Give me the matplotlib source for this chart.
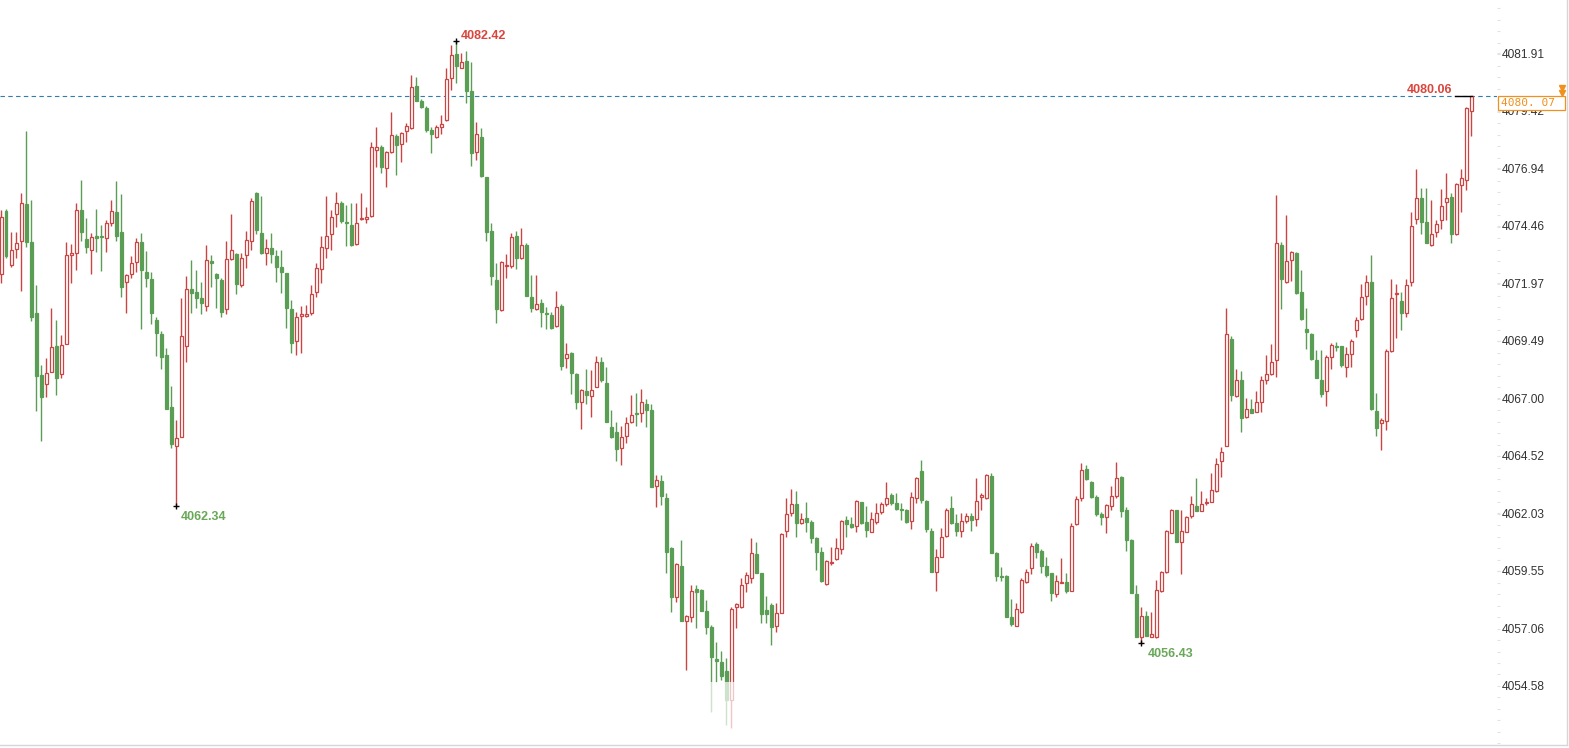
import numpy as np
import matplotlib
matplotlib.use('Agg')
import matplotlib.pyplot as plt
import matplotlib.transforms as mtransforms
from matplotlib.patches import Rectangle
from matplotlib.lines import Line2D
from matplotlib.ticker import FixedLocator, FixedFormatter, AutoMinorLocator


# OHLC data (one candle per bar, oldest first)
open_prices = [
    4072.36, 4075.11, 4072.77, 4073.44, 4073.82, 4075.39, 4073.74, 4070.68, 4068.01, 4067.61,
    4068.16, 4069.27, 4068.06, 4069.34, 4073.21, 4073.27, 4075.14, 4073.89, 4073.41, 4074.02,
    4074.02, 4073.92, 4074.57, 4075.04, 4074.18, 4072.05, 4072.36, 4072.88, 4073.77, 4072.45,
    4072.15, 4070.39, 4069.78, 4068.88, 4066.62, 4064.96, 4065.32, 4069.28, 4071.73, 4071.58,
    4071.33, 4071.01, 4072.94, 4072.38, 4072.12, 4070.85, 4073.01, 4073.24, 4071.90, 4073.20,
    4073.80, 4075.86, 4074.13, 4073.30, 4073.49, 4073.15, 4072.69, 4072.41, 4070.85, 4069.50,
    4070.56, 4070.56, 4070.68, 4071.58, 4072.58, 4073.49, 4074.09, 4074.95, 4075.43, 4074.61,
    4074.49, 4073.67, 4074.75, 4074.74, 4074.88, 4077.73, 4077.85, 4076.94, 4077.63, 4078.34,
    4077.99, 4078.57, 4078.67, 4080.50, 4079.85, 4079.56, 4078.60, 4078.28, 4078.71, 4079.03,
    4080.83, 4081.87, 4081.29, 4081.58, 4080.28, 4077.63, 4078.28, 4076.58, 4074.23, 4072.12,
    4070.82, 4072.74, 4072.72, 4074.02, 4073.05, 4073.63, 4071.37, 4070.85, 4071.11, 4070.68,
    4070.61, 4070.13, 4070.99, 4068.76, 4068.98, 4068.06, 4066.83, 4067.32, 4067.12, 4067.51,
    4068.56, 4067.68, 4065.75, 4065.54, 4064.85, 4065.39, 4066.00, 4066.39, 4066.36, 4066.75,
    4066.50, 4063.23, 4063.45, 4062.71, 4060.56, 4058.44, 4059.76, 4057.40, 4057.57, 4058.76,
    4058.73, 4057.80, 4057.14, 4055.75, 4055.63, 4055.24, 4053.97, 4058.01, 4057.98, 4059.01,
    4059.23, 4060.28, 4059.45, 4057.86, 4058.08, 4057.19, 4057.75, 4061.28, 4062.07, 4062.44,
    4061.61, 4061.82, 4061.68, 4060.96, 4060.35, 4058.97, 4059.88, 4060.05, 4060.50, 4061.75,
    4061.56, 4061.49, 4062.51, 4061.65, 4061.25, 4061.68, 4062.11, 4062.43, 4062.83, 4062.50,
    4062.21, 4062.18, 4061.71, 4062.71, 4063.88, 4062.57, 4061.28, 4059.52, 4060.17, 4061.06,
    4062.25, 4061.61, 4061.28, 4061.72, 4061.92, 4061.78, 4062.76, 4062.69, 4063.65, 4060.31,
    4059.33, 4059.33, 4057.55, 4057.19, 4057.76, 4059.09, 4059.66, 4060.71, 4060.41, 4059.76,
    4059.45, 4058.54, 4059.04, 4059.06, 4058.70, 4061.58, 4062.69, 4063.94, 4063.41, 4062.76,
    4062.01, 4061.87, 4062.37, 4062.80, 4063.62, 4062.18, 4060.89, 4058.55, 4056.71, 4057.60,
    4056.68, 4056.68, 4058.70, 4059.49, 4061.20, 4062.18, 4060.79, 4061.25, 4061.94, 4062.35,
    4062.15, 4062.50, 4062.54, 4063.00, 4064.31, 4064.96, 4069.55, 4067.11, 4067.80, 4066.19,
    4066.53, 4066.43, 4066.83, 4067.80, 4068.04, 4068.66, 4073.63, 4072.02, 4072.98, 4073.30,
    4071.58, 4070.00, 4069.77, 4068.66, 4067.80, 4067.34, 4068.78, 4069.27, 4069.27, 4068.34,
    4068.92, 4069.96, 4070.42, 4071.43, 4072.05, 4066.47, 4065.93, 4066.04, 4069.06, 4071.51,
    4071.21, 4070.68, 4072.02, 4074.74, 4075.67, 4074.61, 4073.63, 4074.21, 4074.71, 4075.47,
    4075.72, 4074.09, 4076.22, 4076.44, 4079.43,
]
high_prices = [
    4075.14, 4075.17, 4074.21, 4074.21, 4075.86, 4078.55, 4075.57, 4071.90, 4068.45, 4068.73,
    4070.92, 4070.39, 4069.74, 4073.77, 4073.67, 4075.46, 4076.44, 4074.81, 4074.13, 4075.17,
    4074.48, 4074.71, 4075.57, 4076.39, 4075.83, 4072.38, 4073.15, 4073.92, 4074.13, 4073.37,
    4072.48, 4070.53, 4069.91, 4069.17, 4067.55, 4066.07, 4071.35, 4072.29, 4072.98, 4072.55,
    4072.02, 4073.63, 4073.20, 4072.41, 4072.19, 4073.80, 4074.95, 4073.27, 4073.27, 4074.23,
    4075.65, 4075.93, 4075.75, 4073.89, 4074.13, 4073.41, 4073.41, 4072.43, 4071.25, 4070.75,
    4071.01, 4071.04, 4071.90, 4072.84, 4074.02, 4075.75, 4075.14, 4075.90, 4075.54, 4075.36,
    4075.43, 4075.43, 4075.86, 4075.26, 4078.09, 4078.74, 4077.95, 4077.70, 4079.39, 4078.42,
    4078.52, 4078.91, 4080.97, 4080.90, 4079.92, 4079.63, 4078.74, 4078.81, 4079.24, 4081.26,
    4082.27, 4082.42, 4081.94, 4082.01, 4081.55, 4078.93, 4078.67, 4076.58, 4074.57, 4072.84,
    4072.94, 4073.24, 4074.16, 4074.23, 4074.35, 4073.73, 4072.33, 4072.33, 4071.28, 4070.97,
    4070.75, 4071.66, 4071.07, 4069.38, 4069.02, 4068.11, 4067.39, 4068.26, 4068.23, 4068.85,
    4068.81, 4068.37, 4066.50, 4065.97, 4065.81, 4066.19, 4067.15, 4067.25, 4067.41, 4066.96,
    4066.76, 4063.69, 4063.69, 4062.90, 4060.60, 4059.88, 4060.89, 4057.65, 4058.94, 4058.94,
    4058.76, 4058.29, 4057.21, 4056.49, 4056.09, 4055.77, 4058.01, 4058.18, 4059.23, 4059.52,
    4060.96, 4060.81, 4059.48, 4058.47, 4058.15, 4058.15, 4061.17, 4062.71, 4063.07, 4063.00,
    4062.04, 4062.51, 4061.75, 4061.03, 4060.60, 4060.02, 4060.57, 4060.96, 4061.75, 4061.92,
    4061.89, 4062.61, 4062.54, 4062.35, 4062.11, 4062.47, 4062.54, 4063.38, 4062.93, 4062.90,
    4062.47, 4062.21, 4062.95, 4063.62, 4064.34, 4062.61, 4061.39, 4060.48, 4061.39, 4062.28,
    4062.79, 4062.01, 4062.04, 4062.04, 4062.07, 4063.55, 4062.90, 4063.72, 4063.77, 4060.38,
    4059.73, 4059.37, 4058.32, 4058.15, 4059.23, 4059.62, 4060.74, 4060.81, 4060.48, 4060.17,
    4059.48, 4059.37, 4060.09, 4059.48, 4061.61, 4062.79, 4064.20, 4064.13, 4063.43, 4062.83,
    4062.11, 4062.44, 4063.22, 4064.27, 4063.65, 4062.30, 4060.92, 4058.94, 4057.98, 4057.82,
    4057.79, 4059.16, 4059.56, 4061.32, 4062.21, 4062.18, 4062.18, 4061.92, 4062.79, 4063.58,
    4063.02, 4062.71, 4063.77, 4064.41, 4064.92, 4070.89, 4069.70, 4068.26, 4068.19, 4067.01,
    4066.96, 4067.34, 4067.98, 4068.88, 4069.34, 4075.79, 4073.74, 4074.93, 4073.38, 4073.31,
    4072.55, 4070.89, 4069.81, 4069.09, 4069.09, 4068.88, 4069.41, 4069.42, 4069.28, 4069.24,
    4069.55, 4070.50, 4071.94, 4072.33, 4073.20, 4067.22, 4066.14, 4069.12, 4072.15, 4071.94,
    4071.61, 4072.15, 4075.04, 4076.90, 4076.11, 4076.08, 4075.57, 4074.71, 4076.05, 4076.72,
    4075.86, 4076.29, 4076.90, 4079.60, 4080.06,
]
low_prices = [
    4072.00, 4073.05, 4072.69, 4073.05, 4071.66, 4073.56, 4070.35, 4066.47, 4065.18, 4067.05,
    4068.16, 4067.15, 4067.87, 4069.34, 4072.00, 4072.55, 4073.82, 4073.27, 4072.38, 4073.34,
    4072.52, 4073.34, 4074.45, 4073.82, 4071.40, 4070.71, 4072.19, 4072.48, 4070.00, 4071.83,
    4070.20, 4068.85, 4068.26, 4066.53, 4064.85, 4062.34, 4065.32, 4068.59, 4070.71, 4070.89,
    4070.63, 4070.78, 4071.83, 4070.89, 4070.50, 4070.63, 4072.98, 4071.51, 4071.83, 4072.62,
    4073.41, 4074.10, 4073.24, 4072.77, 4072.84, 4072.05, 4071.54, 4070.06, 4068.98, 4068.88,
    4068.98, 4070.53, 4070.61, 4071.40, 4071.97, 4073.05, 4073.41, 4074.42, 4074.57, 4073.59,
    4073.59, 4073.63, 4074.71, 4074.57, 4074.85, 4077.01, 4076.72, 4076.15, 4077.59, 4076.65,
    4077.20, 4078.06, 4078.64, 4079.86, 4079.53, 4078.52, 4077.62, 4078.24, 4078.41, 4078.99,
    4080.32, 4080.61, 4081.26, 4079.78, 4077.04, 4077.30, 4076.58, 4073.82, 4071.90, 4070.25,
    4070.79, 4072.19, 4072.62, 4072.59, 4073.01, 4071.44, 4070.75, 4070.82, 4070.10, 4069.99,
    4069.99, 4070.10, 4068.23, 4068.33, 4067.19, 4066.53, 4065.68, 4066.75, 4066.21, 4067.48,
    4067.70, 4066.00, 4065.31, 4064.31, 4064.13, 4065.06, 4065.95, 4065.81, 4066.00, 4065.78,
    4063.16, 4062.33, 4062.40, 4059.48, 4057.79, 4058.22, 4057.40, 4055.27, 4057.36, 4057.10,
    4057.82, 4056.81, 4053.46, 4054.74, 4054.84, 4052.89, 4052.77, 4057.07, 4057.93, 4058.65,
    4059.01, 4059.45, 4057.32, 4057.32, 4056.35, 4056.93, 4057.75, 4061.00, 4061.94, 4061.03,
    4061.58, 4061.25, 4060.74, 4059.59, 4059.09, 4058.94, 4059.81, 4060.02, 4060.28, 4061.03,
    4061.39, 4061.25, 4061.58, 4061.03, 4061.22, 4061.58, 4062.01, 4062.37, 4062.40, 4062.18,
    4061.75, 4061.63, 4061.35, 4062.50, 4062.50, 4061.25, 4059.49, 4058.70, 4060.14, 4061.03,
    4061.58, 4061.06, 4061.03, 4061.63, 4061.29, 4061.49, 4062.18, 4062.66, 4060.34, 4059.12,
    4059.13, 4057.55, 4057.17, 4057.19, 4057.72, 4059.01, 4059.42, 4060.09, 4059.45, 4059.30,
    4058.27, 4058.44, 4059.04, 4058.58, 4058.70, 4061.53, 4062.59, 4063.48, 4062.69, 4061.92,
    4061.53, 4061.17, 4062.18, 4062.69, 4061.89, 4060.43, 4058.61, 4056.68, 4056.43, 4056.75,
    4056.68, 4056.67, 4058.65, 4059.48, 4061.17, 4060.81, 4059.40, 4061.25, 4061.82, 4062.15,
    4062.15, 4062.40, 4062.51, 4062.97, 4063.62, 4064.96, 4066.90, 4067.08, 4065.57, 4066.14,
    4066.36, 4066.43, 4066.43, 4067.62, 4068.01, 4067.91, 4070.85, 4072.00, 4072.09, 4071.51,
    4070.39, 4069.12, 4068.66, 4067.90, 4067.08, 4066.67, 4068.26, 4069.06, 4068.34, 4067.94,
    4068.37, 4069.64, 4070.39, 4071.04, 4066.50, 4065.38, 4064.77, 4065.64, 4069.02, 4069.60,
    4069.96, 4070.53, 4071.87, 4074.54, 4074.09, 4073.70, 4073.60, 4073.96, 4074.31, 4074.71,
    4073.73, 4074.06, 4075.07, 4076.01, 4078.34,
]
close_prices = [
    4074.85, 4073.15, 4073.41, 4073.70, 4075.43, 4073.77, 4070.53, 4067.98, 4067.08, 4068.09,
    4069.21, 4067.87, 4069.31, 4073.20, 4073.27, 4075.14, 4074.21, 4073.56, 4073.96, 4073.95,
    4073.96, 4074.57, 4075.10, 4074.03, 4071.83, 4072.33, 4072.87, 4073.74, 4072.55, 4072.19,
    4070.68, 4069.81, 4068.81, 4066.53, 4065.02, 4065.28, 4069.70, 4071.71, 4071.54, 4071.33,
    4071.14, 4072.98, 4072.87, 4072.19, 4070.75, 4073.01, 4073.41, 4071.93, 4073.05, 4073.85,
    4075.53, 4074.28, 4073.27, 4073.49, 4073.24, 4072.69, 4072.45, 4070.89, 4069.41, 4070.50,
    4070.63, 4070.63, 4071.50, 4072.65, 4073.53, 4074.02, 4074.82, 4075.46, 4074.68, 4074.57,
    4073.63, 4074.59, 4074.81, 4074.82, 4077.85, 4077.85, 4076.98, 4077.63, 4078.38, 4077.95,
    4078.48, 4078.77, 4080.44, 4079.86, 4079.60, 4078.60, 4078.41, 4078.71, 4078.84, 4080.79,
    4081.84, 4081.36, 4081.52, 4080.30, 4077.59, 4078.41, 4076.61, 4074.21, 4072.29, 4070.85,
    4072.91, 4072.77, 4073.96, 4073.05, 4073.63, 4071.44, 4070.89, 4071.08, 4070.72, 4070.65,
    4070.06, 4070.94, 4068.42, 4068.92, 4068.09, 4066.86, 4067.37, 4067.15, 4067.37, 4068.56,
    4067.80, 4066.00, 4065.32, 4064.82, 4065.32, 4065.93, 4066.29, 4066.31, 4066.86, 4066.50,
    4063.19, 4063.48, 4062.80, 4060.38, 4058.41, 4059.84, 4057.40, 4057.62, 4058.68, 4058.65,
    4057.83, 4057.14, 4055.82, 4055.67, 4055.03, 4053.97, 4057.91, 4058.12, 4058.94, 4059.37,
    4060.31, 4059.48, 4057.69, 4057.69, 4057.14, 4057.72, 4061.15, 4061.99, 4062.44, 4061.63,
    4061.78, 4061.68, 4060.96, 4060.38, 4059.13, 4059.98, 4059.95, 4060.53, 4061.72, 4061.56,
    4061.43, 4062.57, 4061.61, 4061.32, 4061.79, 4062.04, 4062.44, 4062.71, 4062.50, 4062.23,
    4062.18, 4061.68, 4062.73, 4063.55, 4062.61, 4061.36, 4059.52, 4060.14, 4061.03, 4062.18,
    4061.63, 4061.29, 4061.71, 4061.94, 4061.75, 4062.57, 4062.82, 4063.69, 4060.34, 4059.35,
    4059.30, 4057.57, 4057.26, 4057.91, 4059.16, 4059.49, 4060.64, 4060.38, 4059.78, 4059.37,
    4058.58, 4059.13, 4059.09, 4058.68, 4061.51, 4062.66, 4063.91, 4063.51, 4062.76, 4061.99,
    4061.87, 4062.40, 4062.80, 4063.55, 4062.15, 4060.89, 4058.61, 4056.71, 4057.60, 4056.75,
    4056.83, 4058.73, 4059.52, 4061.28, 4062.18, 4060.81, 4061.28, 4061.89, 4062.43, 4062.15,
    4062.44, 4062.54, 4063.05, 4064.17, 4064.70, 4069.78, 4067.15, 4067.80, 4066.14, 4066.53,
    4066.39, 4066.83, 4067.80, 4068.04, 4068.56, 4073.70, 4072.15, 4072.94, 4073.31, 4071.54,
    4070.42, 4069.86, 4068.69, 4067.90, 4067.18, 4068.81, 4069.31, 4069.24, 4068.45, 4068.91,
    4069.48, 4070.39, 4071.37, 4072.05, 4066.53, 4065.71, 4066.07, 4069.05, 4071.33, 4071.57,
    4070.68, 4071.90, 4074.45, 4075.67, 4074.64, 4073.73, 4074.10, 4074.52, 4075.33, 4075.65,
    4074.09, 4076.26, 4076.51, 4079.53, 4080.06,
]

# Right axis tick labels
tick_values = [4081.91, 4079.42, 4076.94, 4074.46, 4071.97, 4069.49,
               4067.00, 4064.52, 4062.03, 4059.55, 4057.06, 4054.58]
tick_labels = ['4081.91', '4079.42', '4076.94', '4074.46', '4071.97', '4069.49',
               '4067.00', '4064.52', '4062.03', '4059.55', '4057.06', '4054.58']

# Marked extremes and last price
peak_label = '4082.42'
trough_labels = ['4062.34', '4056.43']
last_label = '4080.06'
current_price = 4080.07
current_label = '4080. 07'

o = np.array(open_prices)
h = np.array(high_prices)
l = np.array(low_prices)
c = np.array(close_prices)
x = np.arange(len(o))

red = '#cc4343'
green = '#5a9e55'
label_red = '#d9463d'
label_green = '#69a858'
orange = '#f0901e'

fig = plt.figure(figsize=(15.69, 7.48), dpi=100)
ax = fig.add_axes([0, 3 / 748, 1497 / 1569, 745 / 748])
ax.set_xlim(-0.2, 299.2)
ax.set_ylim(4052.03, 4084.21)
for s in ax.spines.values():
    s.set_visible(False)

# Candles: red hollow = up, green filled = down
up = c >= o
cols = np.where(up, red, green)
ax.vlines(x, l, h, colors=cols, linewidth=1.0, zorder=2)
ax.bar(x, np.maximum(np.abs(c - o), 0.04), bottom=np.minimum(o, c), width=0.6,
       color=np.where(up, 'white', green), edgecolor=cols, linewidth=0.9, zorder=3)

# Last price dashed line
ax.axhline(c[-1], color='#2f7db3', linewidth=0.8, linestyle=(0, (4, 3)), zorder=1)

# Faded watermark strip at the bottom
ax.add_patch(Rectangle((124, 4052.03), 64, 2.7, facecolor='white', alpha=0.7,
                       edgecolor='none', zorder=4))

# Axis ticks on the right
ax.set_xticks([])
ax.yaxis.tick_right()
ax.yaxis.set_major_locator(FixedLocator(tick_values))
ax.yaxis.set_major_formatter(FixedFormatter(tick_labels))
ax.yaxis.set_minor_locator(AutoMinorLocator(5))
ax.tick_params(axis='y', which='both', length=2.5, width=0.8, color='#e2e2e2',
               direction='out', pad=0.8, labelsize=8.6, labelcolor='#333333')
for t in ax.get_yticklabels():
    t.set_family('Liberation Sans')

# Extreme markers
i_peak = int(np.argmax(h))
ax.plot(i_peak, h[i_peak], marker='+', color='black', markersize=5, mew=1, zorder=6)
ax.annotate(peak_label, (i_peak, h[i_peak]), xytext=(3.6, 3.6), textcoords='offset points',
            ha='left', va='center', color=label_red, fontsize=9, fontweight='bold',
            family='Liberation Sans', zorder=6)

i_low1 = int(np.argmin(l[:100]))
i_low2 = 200 + int(np.argmin(l[200:]))
for i_low, lab, dx in [(i_low1, trough_labels[0], 3.6), (i_low2, trough_labels[1], 4.6)]:
    ax.plot(i_low, l[i_low], marker='+', color='black', markersize=5, mew=1, zorder=6)
    ax.annotate(lab, (i_low, l[i_low]), xytext=(dx, -7.6), textcoords='offset points',
                ha='left', va='center', color=label_green, fontsize=9, fontweight='bold',
                family='Liberation Sans', zorder=6)

# Last candle marker
n_last = len(c) - 1
ax.plot([n_last - 3.2, n_last + 0.2], [h[-1], h[-1]], color='black', linewidth=1, zorder=6)
ax.annotate(last_label, (n_last, h[-1]), xytext=(-13.2, 4.4), textcoords='offset points',
            ha='right', va='center', color=label_red, fontsize=9, fontweight='bold',
            family='Liberation Sans', zorder=6)

# Current price box on the axis
blend = mtransforms.blended_transform_factory(ax.transAxes, ax.transData)
ax.add_patch(Rectangle((1.0007, current_price - 0.6), 0.0448, 0.6, transform=blend,
                       facecolor='white', edgecolor=orange, linewidth=0.9,
                       clip_on=False, zorder=7))
ax.text(1.0027, current_price - 0.3, current_label, transform=blend, ha='left', va='center',
        color=orange, fontsize=8.0, family='DejaVu Sans Mono', zorder=8, clip_on=False)
ax.plot([1.0434, 1.0434], [current_price + 0.36, current_price + 0.13], transform=blend,
        linestyle='none', marker='v', markersize=3.8, color=orange, clip_on=False, zorder=8)

# Frame lines (bottom and right)
fig.add_artist(Line2D([0, 1567 / 1569], [3 / 748, 3 / 748], color='#d6d6d6', linewidth=1))
fig.add_artist(Line2D([1567 / 1569, 1567 / 1569], [3 / 748, 1], color='#d6d6d6', linewidth=1))

plt.savefig('out.png')
